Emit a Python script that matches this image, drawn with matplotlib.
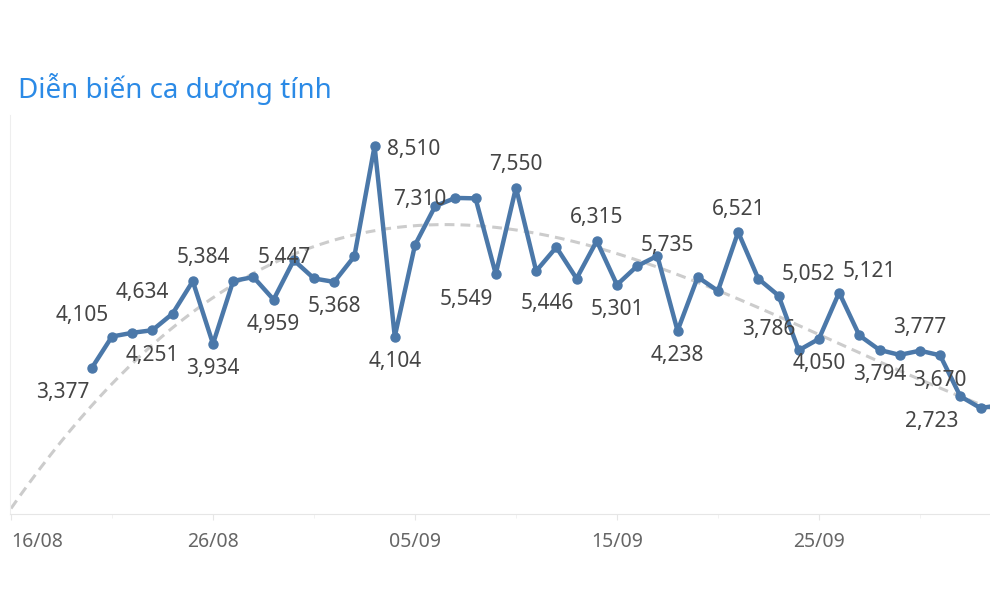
import numpy as np
import pandas as pd
import matplotlib.pyplot as plt

plt.rcParams['font.family'] = ['Noto Sans', 'DejaVu Sans']

# số ca dương tính theo ngày, bắt đầu từ 20/08/2021
start = pd.Timestamp('2021-08-16')
cases = [3377, 4105, 4190, 4251, 4634, 5384, 3934, 5390, 5480, 4959,
         5870, 5447, 5368, 5960, 8510, 4104, 6220, 7120, 7310, 7300,
         5549, 7550, 5620, 6170, 5446, 6315, 5301, 5735, 5970, 4238,
         5480, 5160, 6521, 5440, 5052, 3786, 4050, 5121, 4130, 3794,
         3680, 3777, 3670, 2723, 2450, 2520]
dates = pd.date_range('2021-08-20', periods=len(cases))
days = np.array((dates - start).days)

# đường xu hướng, tính theo số ngày kể từ 16/08
trend_days = [0, 1, 2.8, 4.4, 6, 7.7, 9.4, 10.7, 16.3, 18.4,
              21.2, 23.7, 26, 28.2, 31, 35, 37.4, 40.7, 44, 47]
trend_values = [140, 790, 1780, 2710, 3560, 4250, 4790, 5130, 6380, 6610,
                6680, 6640, 6500, 6270, 5870, 5180, 4650, 4020, 3330, 2710]

tick_labels = ['16/08', '26/08', '05/09', '15/09', '25/09']

# những điểm có nhãn và vị trí nhãn
label_dates = ['20/08', '21/08', '23/08', '24/08', '25/08', '26/08', '29/08', '31/08',
               '01/09', '03/09', '04/09', '07/09', '09/09', '10/09', '13/09', '14/09',
               '15/09', '16/09', '18/09', '21/09', '23/09', '24/09', '25/09', '26/09',
               '28/09', '30/09', '01/10', '02/10']
label_pos = ['bl', 'al', 'b', 'al', 'a+', 'b', 'b', 'al',
             'b', 'r', 'b', 'l', 'bl', 'a', 'bl', 'a',
             'b', 'ar', 'b', 'a', 'ar', 'al', 'b', 'ar',
             'b', 'a', 'b', 'bl']
offsets = {'a': (0, 23), 'b': (0, -25), 'al': (-30, 21), 'ar': (30, 21),
           'bl': (-29, -25), 'r': (39, -3), 'l': (-36, -2), 'a+': (11, 24)}

fig = plt.figure(figsize=(9.9, 5.89), dpi=100)
fig.text(18 / 990, 1 - 89 / 589, 'Diễn biến ca dương tính', color='#2b8ae6',
         fontsize=20, va='center', ha='left')

ax = fig.add_axes([10 / 990, 75 / 589, 980 / 990, 399 / 589])

# đường xu hướng: làm trơn các giá trị đọc được
coef = np.polyfit(trend_days, trend_values, 5)
xs = np.linspace(0, 49, 300)
ax.plot(xs, np.polyval(coef, xs), color='#cccccc', lw=2.2, dashes=(3.2, 2), zorder=1)

ax.plot(days, cases, color='#4b78a9', lw=3.2, marker='o', markersize=6.5, zorder=2)

date_idx = list(dates.strftime('%d/%m'))
for lab, pos in zip(label_dates, label_pos):
    i = date_idx.index(lab)
    ax.annotate(f'{cases[i]:,}', (days[i], cases[i]), xytext=offsets[pos],
                textcoords='offset pixels', ha='center', va='center',
                fontsize=15, color='#444444', zorder=3)

ax.set_xlim(-0.05, 48.47)
ax.set_ylim(0, 9228)
tick_days = [(pd.Timestamp(f'2021-{t[3:]}-{t[:2]}') - start).days for t in tick_labels]
ax.set_xticks(tick_days)
ax.set_xticklabels(tick_labels)
ax.set_xticks(np.arange(5, 49, 10), minor=True)
ax.tick_params(axis='x', which='major', length=4, color='#e6e6e6', pad=9,
               labelsize=14, labelcolor='#666666')
ax.tick_params(axis='x', which='minor', length=3, color='#f0f0f0')
ax.get_xticklabels()[0].set_ha('left')
ax.set_yticks([])
for s in ['top', 'right']:
    ax.spines[s].set_visible(False)
ax.spines['bottom'].set_color('#e6e6e6')
ax.spines['left'].set_color('#eeeeee')

fig.savefig('out.png', dpi=100)
